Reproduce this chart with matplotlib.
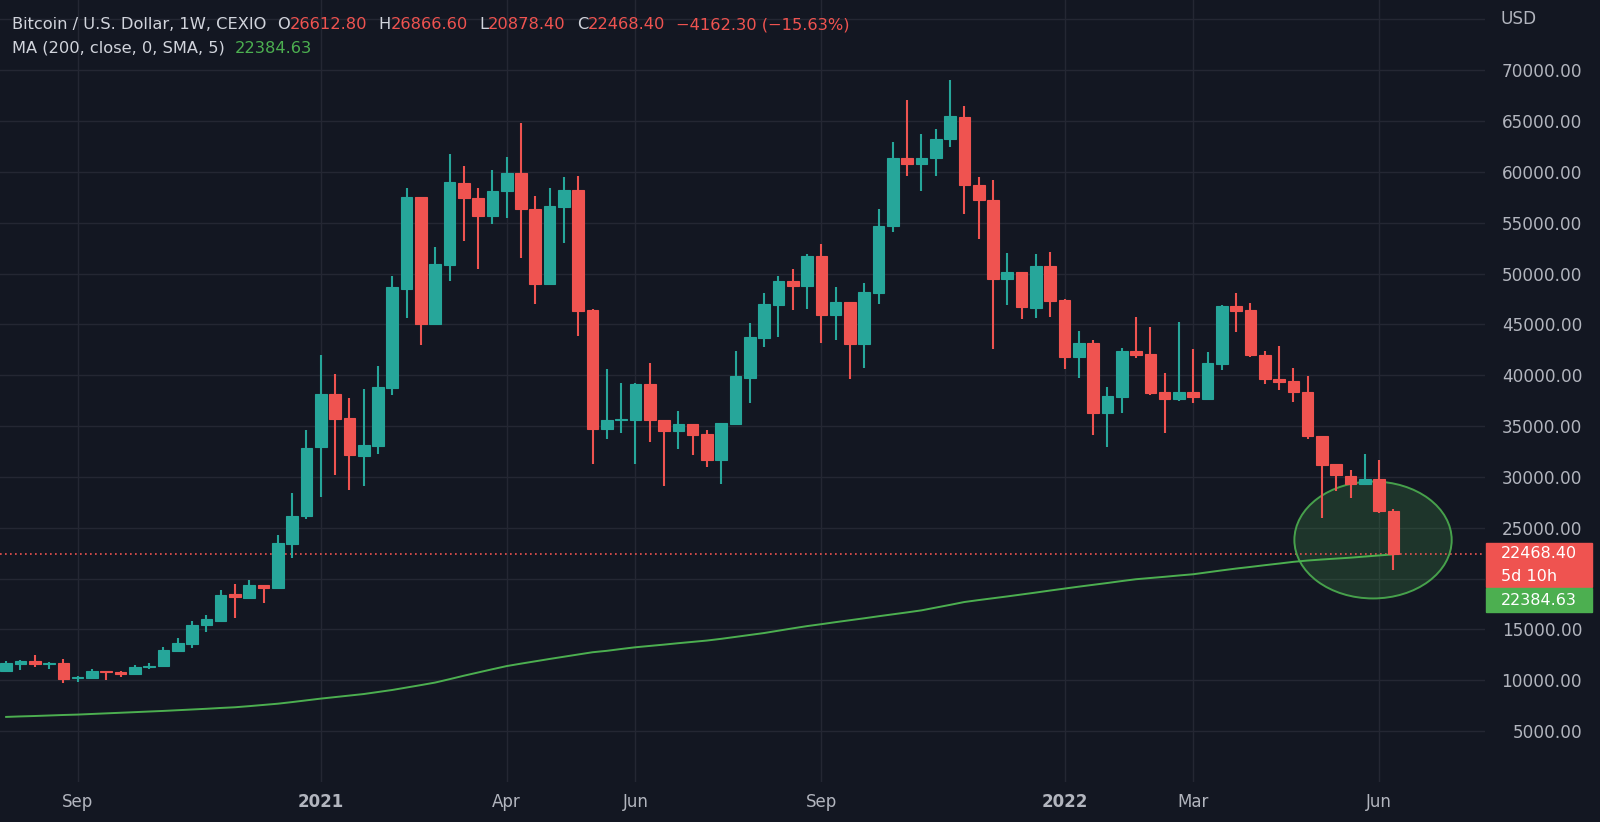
import numpy as np
import pandas as pd
import matplotlib
matplotlib.use('Agg')
import matplotlib.pyplot as plt
import matplotlib.dates as mdates
from matplotlib.patches import Ellipse, Rectangle
from matplotlib.transforms import IdentityTransform

# Weekly BTC/USD candles, first bar = week of 3 Aug 2020
week_start = '2020-08-03'

opens = [10920, 11600, 11860, 11630, 11730, 10200, 10250, 10880, 10780, 10590,
         11340, 11420, 12890, 13600, 15430, 15830, 18450, 18120, 19340, 19040,
         23430, 26160, 32950, 38200, 35830, 32060, 33010, 38750, 48520, 57540,
         45080, 50850, 58950, 57475, 55700, 58100, 59930, 56390, 49020, 56560,
         58260, 46390, 34690, 35600, 35640, 39110, 35640, 34530, 35250, 34190,
         31640, 35250, 39740, 43710, 46890, 49280, 48790, 51700, 45900, 47250,
         43050, 48100, 54660, 61410, 60820, 61380, 63250, 65410, 58750, 57210,
         49430, 50110, 46570, 50770, 47390, 41750, 43130, 36250, 37880, 42410,
         42080, 38340, 37620, 38340, 37680, 41110, 46830, 46410, 42030, 39640,
         39410, 38370, 34050, 31240, 30130, 29350, 29770, 26612.8]
highs = [11860, 11990, 12450, 11800, 12060, 10420, 11140, 10950, 10920, 11470,
         11730, 13300, 14180, 15880, 16460, 18890, 19480, 19890, 19340, 24320,
         28380, 34650, 41970, 40100, 37800, 38620, 40920, 49740, 58390, 57540,
         52620, 61800, 60620, 58460, 60160, 61440, 64820, 57600, 58430, 59510,
         59570, 46500, 40650, 39280, 39250, 41200, 35640, 36490, 35250, 34590,
         35310, 42390, 45150, 48130, 49740, 50490, 51900, 52890, 48690, 47250,
         49080, 56390, 62950, 67050, 63700, 64200, 69020, 66460, 59510, 59180,
         51980, 50110, 51890, 52080, 47520, 44380, 43460, 38870, 42640, 45750,
         44770, 40180, 45230, 42540, 42250, 46900, 48070, 47090, 42350, 42880,
         40720, 39930, 34050, 31240, 30650, 32290, 31630, 26866.6]
lows = [10920, 11010, 11340, 11080, 9770, 9800, 10230, 10030, 10360, 10490,
        11110, 11400, 12780, 13190, 14760, 15830, 16160, 18120, 17570, 18980,
        21990, 25870, 28000, 30160, 28690, 29110, 32300, 38030, 45640, 43020,
        45000, 49280, 53180, 50490, 54920, 55470, 51480, 47050, 48900, 53020,
        43870, 31310, 33770, 34360, 31310, 33440, 29110, 32720, 32130, 30980,
        29280, 35200, 37280, 42790, 43770, 46390, 46560, 43210, 43510, 39670,
        40750, 46980, 54100, 59610, 58100, 59610, 62460, 55840, 53410, 42570,
        46870, 45560, 45660, 45750, 40570, 39750, 34080, 32970, 36310, 41690,
        38080, 34340, 37420, 37230, 37580, 40520, 44220, 41760, 39150, 38560,
        37350, 33730, 25920, 28630, 27940, 29180, 26500, 20878.4]
closes = [11670, 11860, 11600, 11730, 10160, 10300, 10890, 10780, 10650, 11340,
          11440, 12970, 13700, 15460, 16010, 18410, 18150, 19340, 19040, 23470,
          26160, 32880, 38200, 35700, 32130, 33110, 38850, 48690, 57540, 45080,
          50980, 59020, 57475, 55700, 58160, 59930, 56330, 49020, 56620, 58260,
          46330, 34690, 35640, 35700, 39110, 35570, 34530, 35250, 34160, 31640,
          35310, 39900, 43770, 46990, 49280, 48790, 51700, 45900, 47250, 43050,
          48230, 54690, 61410, 60820, 61410, 63280, 65480, 58660, 57210, 49430,
          50110, 46670, 50770, 47330, 41750, 43130, 36250, 37950, 42410, 41950,
          38280, 37620, 38340, 37820, 41210, 46830, 46270, 41990, 39610, 39380,
          38330, 34020, 31180, 30200, 29350, 29770, 26630.7, 22468.4]

# 200 week SMA
ma200 = [6400, 6450, 6490, 6540, 6590, 6630, 6690, 6750, 6810, 6870,
         6930, 6990, 7060, 7130, 7200, 7280, 7350, 7460, 7580, 7700,
         7860, 8030, 8200, 8350, 8500, 8650, 8850, 9050, 9290, 9530,
         9780, 10110, 10450, 10770, 11090, 11400, 11640, 11870, 12100, 12320,
         12540, 12760, 12900, 13080, 13250, 13380, 13510, 13650, 13780, 13910,
         14080, 14270, 14460, 14650, 14880, 15110, 15330, 15520, 15720, 15910,
         16100, 16300, 16490, 16680, 16880, 17150, 17420, 17700, 17890, 18070,
         18250, 18440, 18630, 18830, 19020, 19210, 19390, 19570, 19760, 19940,
         20060, 20180, 20310, 20430, 20620, 20810, 20990, 21150, 21320, 21480,
         21650, 21780, 21880, 21970, 22060, 22170, 22280, 22384.63]

month_ticks = ['2020-09-07', '2021-01-04', '2021-04-05', '2021-06-07',
               '2021-09-06', '2022-01-03', '2022-03-07', '2022-06-06']
month_labels = ['Sep', '2021', 'Apr', 'Jun', 'Sep', '2022', 'Mar', 'Jun']
price_ticks = list(range(5000, 75001, 5000))

# highlighted zone around the last candles
zone_center_date = '2022-06-03'
zone_center_price = 23800
zone_width_days = 77
zone_height_price = 11500

BG = '#131722'
GRID = '#242733'
TXT = '#b2b5be'
HEAD = '#d1d4dc'
UP = '#26a69a'
DOWN = '#ef5350'
MA_COL = '#4caf50'

plt.rcParams['font.family'] = ['DejaVu Sans']

fig = plt.figure(figsize=(16, 8.22), dpi=100, facecolor=BG)
ax = fig.add_axes([0, 40 / 822, 1485 / 1600, 782 / 822], facecolor=BG)

dates = pd.date_range(week_start, periods=len(opens), freq='7D')
x = mdates.date2num(dates)
o = np.array(opens)
h = np.array(highs)
l = np.array(lows)
c = np.array(closes)
cols = np.where(c >= o, UP, DOWN)

# candles
ax.vlines(x, l, h, colors=cols, lw=1.5, zorder=3)
ax.bar(x, np.abs(c - o), bottom=np.minimum(o, c), width=5.7,
       color=cols, edgecolor=cols, lw=0.8, zorder=4)

# moving average
ax.plot(x, ma200, color=MA_COL, lw=1.4, zorder=2.5)

# highlighted zone
zc = (mdates.date2num(pd.Timestamp(zone_center_date)), zone_center_price)
ax.add_patch(Ellipse(zc, zone_width_days, zone_height_price,
                     facecolor=MA_COL, alpha=0.2, edgecolor='none', zorder=2))
ax.add_patch(Ellipse(zc, zone_width_days, zone_height_price,
                     facecolor='none', edgecolor=MA_COL, lw=1.4, alpha=0.9, zorder=2.6))

# last price line
ax.axhline(c[-1], color=DOWN, lw=1.2, ls=(0, (1, 2)), zorder=2.4)

ax.set_xlim(x[0] - 3, x[-1] + 6.4 * 7)
ax.set_ylim(0, 76900)

# pixel row of the last price, used for the boxes on the price scale
y_last = ax.transData.transform((x[-1], c[-1]))[1]
box_top, box_bottom = y_last + 10.5, y_last - 58.5

ax.set_xticks(mdates.date2num(pd.to_datetime(month_ticks)))
ax.set_xticklabels(month_labels)
for lab in ax.get_xticklabels():
    if lab.get_text().isdigit():
        lab.set_fontweight('bold')
ax.set_yticks(price_ticks)
ylabels = []
for p in price_ticks:
    yp = ax.transData.transform((x[0], p))[1]
    # top tick carries the currency label, ticks under the boxes are hidden
    if p >= 75000 or box_bottom - 10 < yp < box_top + 10:
        ylabels.append('')
    else:
        ylabels.append(f'{p:.2f}')
ax.set_yticklabels(ylabels)
ax.yaxis.tick_right()
ax.tick_params(axis='x', colors=TXT, labelsize=12, length=0, pad=8)
ax.tick_params(axis='y', colors=TXT, labelsize=12.2, length=0, pad=70)
for lab in ax.get_yticklabels():
    lab.set_ha('right')
ax.grid(True, color=GRID, lw=1)
ax.set_axisbelow(True)
for s in ax.spines.values():
    s.set_visible(False)

fig.text(1501, 822 - 18.5, 'USD', color=TXT, fontsize=12.2, va='center',
         ha='left', transform=IdentityTransform())

# price labels on the right axis
fig.patches.append(Rectangle((1486, y_last - 33), 106, 43.5, color=DOWN,
                             transform=IdentityTransform(), figure=fig))
fig.patches.append(Rectangle((1486, box_bottom), 106, 24.5, color=MA_COL,
                             transform=IdentityTransform(), figure=fig))
fig.text(1501, y_last, f'{c[-1]:.2f}', color='white', fontsize=11.5,
         va='center', ha='left', transform=IdentityTransform())
fig.text(1501, y_last - 22.5, '5d 10h', color='white', fontsize=11.5,
         va='center', ha='left', transform=IdentityTransform())
fig.text(1501, y_last - 47, f'{ma200[-1]:.2f}', color='white', fontsize=11.5,
         va='center', ha='left', transform=IdentityTransform())

# legend rows at top left
def fmt(v):
    return f'{v:.2f}'.replace('-', '\u2212')

chg = c[-1] - c[-2]
pct = chg / c[-2] * 100
row1 = [('Bitcoin / U.S. Dollar, 1W, CEXIO', HEAD, 11), ('O', HEAD, 0),
        (fmt(o[-1]), DOWN, 11), ('H', HEAD, 0), (fmt(h[-1]), DOWN, 11),
        ('L', HEAD, 0), (fmt(l[-1]), DOWN, 11), ('C', HEAD, 0),
        (fmt(c[-1]), DOWN, 11), (f'{fmt(chg)} ({fmt(pct)}%)', DOWN, 0)]
row2 = [('MA (200, close, 0, SMA, 5)', HEAD, 10), (fmt(ma200[-1]), MA_COL, 0)]

renderer = fig.canvas.get_renderer()
for row, ypix in [(row1, 822 - 24.5), (row2, 822 - 48)]:
    xpix = 12
    for s, col, gap in row:
        t = fig.text(xpix, ypix, s, color=col, fontsize=11.7, va='center',
                     ha='left', transform=IdentityTransform())
        xpix = t.get_window_extent(renderer).x1 + gap

fig.savefig('out.png', dpi=100, facecolor=BG)
